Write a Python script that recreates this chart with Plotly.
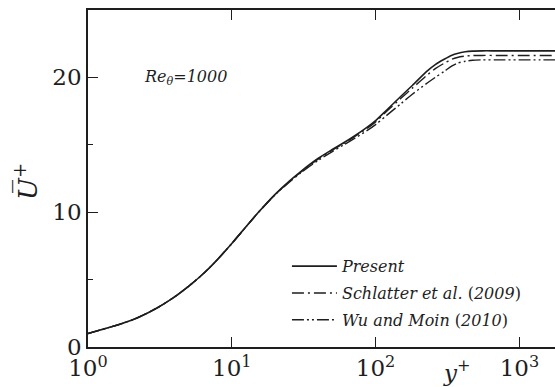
import plotly.graph_objects as go

# ---- data ----
yp_present = [1, 2, 3, 4, 5, 6, 7, 8, 10, 12, 15, 20, 25, 30, 40, 50, 60, 70, 87, 100,
              120, 150, 180, 230, 260, 300, 340, 370, 420, 470, 550, 700, 1000, 1400, 1800, 2000]
u_present = [1.0, 1.98, 2.88, 3.72, 4.5, 5.21, 5.88, 6.52, 7.68, 8.67, 9.88, 11.32, 12.29, 13.0, 14.0, 14.65,
             15.15, 15.6, 16.3, 16.8, 17.6, 18.6, 19.4, 20.5, 20.95, 21.35, 21.65, 21.78, 21.9, 21.95,
             21.97, 21.97, 21.97, 21.97, 21.97, 21.97]

yp_schlatter = list(yp_present)
u_schlatter = [1.0, 1.98, 2.88, 3.72, 4.5, 5.21, 5.88, 6.52, 7.68, 8.67, 9.88, 11.3, 12.25, 12.95, 13.95, 14.6,
               15.1, 15.55, 16.2, 16.7, 17.5, 18.45, 19.2, 20.2, 20.65, 21.05, 21.35, 21.48, 21.58, 21.62,
               21.63, 21.63, 21.63, 21.63, 21.63, 21.63]

yp_wu = list(yp_present)
u_wu = [1.0, 1.98, 2.88, 3.72, 4.5, 5.21, 5.88, 6.52, 7.68, 8.67, 9.88, 11.3, 12.2, 12.9, 13.85, 14.5,
        15.0, 15.42, 16.05, 16.5, 17.2, 18.05, 18.75, 19.6, 20.0, 20.45, 20.85, 21.05, 21.2, 21.27,
        21.3, 21.3, 21.3, 21.3, 21.3, 21.3]

major_x = [1, 10, 100, 1000]
major_x_text = ["10<sup>0</sup>", "10<sup>1</sup>", "10<sup>2</sup>", "10<sup>3</sup>"]
minor_x = [m * d for d in [1, 10, 100, 1000] for m in range(2, 10)]
major_y = [0, 10, 20]
minor_y = [5, 15]

INK = "#1e1e1e"
SERIF = "DejaVu Serif"

fig = go.Figure()
fig.add_trace(go.Scatter(x=yp_present, y=u_present, mode="lines", name="<i>Present</i>",
                         legendgroup="a",
                         line=dict(color=INK, width=1.6, dash="solid", shape="spline", smoothing=0.8)))
fig.add_trace(go.Scatter(x=yp_schlatter, y=u_schlatter, mode="lines",
                         name="<i>Schlatter et al.</i> (<i>2009</i>)", legendgroup="b",
                         line=dict(color=INK, width=1.4, dash="12px,4px,2px,4px",
                                   shape="spline", smoothing=0.8)))
fig.add_trace(go.Scatter(x=yp_wu, y=u_wu, mode="lines", name="<i>Wu and Moin</i> (<i>2010</i>)",
                         legendgroup="c",
                         line=dict(color=INK, width=1.4, dash="12px,3px,2px,3px,2px,3px",
                                   shape="spline", smoothing=0.8)))

xr = [0, 3.2476]
common_x = dict(type="log", range=xr, showgrid=False, zeroline=False)
fig.update_layout(
    width=555, height=387,
    margin=dict(l=88, r=0, t=10, b=40),
    paper_bgcolor="white", plot_bgcolor="white",
    font=dict(family=SERIF, color=INK),
    xaxis=dict(**common_x, tickvals=major_x, ticktext=major_x_text, ticks="inside", ticklen=10,
               tickwidth=1.2, tickcolor=INK, showline=True, linewidth=1.6, linecolor=INK,
               mirror="ticks", tickfont=dict(family=SERIF, size=23, color=INK)),
    xaxis3=dict(**common_x, overlaying="x", anchor="y", tickvals=minor_x, ticks="inside", ticklen=5,
                tickwidth=1.1, tickcolor=INK, showline=False, mirror="ticks", showticklabels=False),
    yaxis=dict(range=[0, 25], showgrid=False, zeroline=False, tickvals=major_y, ticks="inside",
               ticklen=10, tickwidth=1.2, tickcolor=INK, showline=True, linewidth=1.6, linecolor=INK,
               tickfont=dict(family=SERIF, size=23, color=INK),
               minor=dict(tickvals=minor_y, ticks="inside", ticklen=5, tickwidth=1.1, tickcolor=INK)),
    yaxis2=dict(range=[0, 25], overlaying="y", side="right", anchor="x", showgrid=False, zeroline=False,
                tickvals=[10, 20], ticks="inside", ticklen=4, tickwidth=1.2, tickcolor=INK,
                showline=False, showticklabels=False),
    legend=dict(x=0.426, y=0.29, xanchor="left", yanchor="top", bgcolor="rgba(0,0,0,0)",
                borderwidth=0, itemwidth=45, font=dict(family=SERIF, size=16, color=INK),
                tracegroupgap=3),
    showlegend=True,
)

fig.add_annotation(text="<i>Re<sub>θ</sub>=1000</i>", xref="paper", yref="paper",
                   x=(142 - 88) / 467, y=(347 - 78) / 337, xanchor="left", yanchor="middle",
                   showarrow=False, font=dict(family=SERIF, size=16, color=INK))
fig.add_annotation(text="<i>U\u0305</i><sup>+</sup>", xref="paper", yref="paper", textangle=-90,
                   x=(26 - 88) / 467, y=(347 - 182) / 337, xanchor="center", yanchor="middle",
                   showarrow=False, font=dict(family=SERIF, size=26, color=INK))
fig.add_annotation(text="<i>y</i><sup>+</sup>", xref="paper", yref="paper",
                   x=(457 - 88) / 467, y=(347 - 371) / 337, xanchor="center", yanchor="middle",
                   showarrow=False, font=dict(family=SERIF, size=23, color=INK))

fig.write_html("out.html")
